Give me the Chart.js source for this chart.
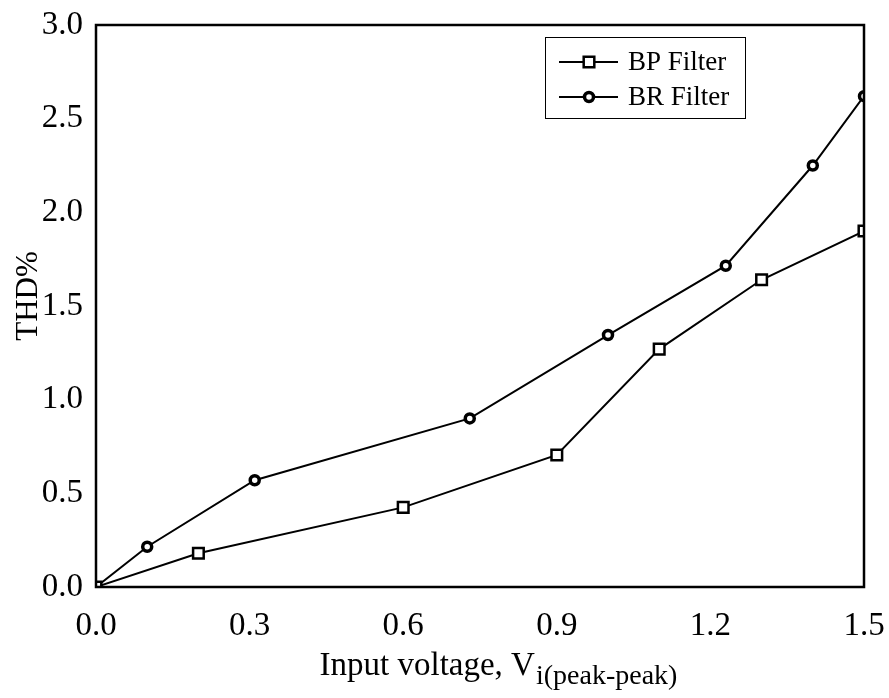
<!DOCTYPE html>
<html>
<head>
<meta charset="utf-8">
<script src="https://cdn.jsdelivr.net/npm/chart.js@4/dist/chart.umd.min.js"></script>
<style>
  html, body { margin: 0; padding: 0; background: #fff; }
  #wrap { width: 889px; height: 698px; }
</style>
</head>
<body>
<div id="wrap"><canvas id="myChart" width="889" height="698"></canvas></div>
<script>
// data
const bpVoltage = [0, 0.2, 0.6, 0.9, 1.1, 1.3, 1.5];
const bpThd = [0, 0.18, 0.425, 0.705, 1.27, 1.64, 1.90];
const brVoltage = [0, 0.1, 0.31, 0.73, 1.0, 1.23, 1.4, 1.5];
const brThd = [0, 0.215, 0.57, 0.90, 1.345, 1.715, 2.25, 2.62];
const xTicks = [0, 0.3, 0.6, 0.9, 1.2, 1.5];
const yTicks = [0, 0.5, 1.0, 1.5, 2.0, 2.5, 3.0];
const seriesLabels = ["BP Filter", "BR Filter"];

const serif = "'Liberation Serif', 'Times New Roman', serif";

function toPoints(xs, ys){
    return xs.map((x, i) => ({x: x, y: ys[i]}));
}

// frame, axis titles and boxed legend
const extras = {
    id: 'extras',
    afterDatasetsDraw(chart){
        const c = chart.ctx;
        const a = chart.chartArea;
        c.save();
        c.strokeStyle = '#000';
        c.lineWidth = 2.5;
        c.strokeRect(a.left, a.top, a.right - a.left, a.bottom - a.top);

        // y title
        c.fillStyle = '#000';
        c.font = '31px ' + serif;
        c.translate(37, (a.top + a.bottom) / 2 - 10);
        c.rotate(-Math.PI / 2);
        c.textAlign = 'center';
        c.textBaseline = 'alphabetic';
        c.fillText('THD%', 0, 0);
        c.restore();

        // x title with subscript
        c.save();
        c.fillStyle = '#000';
        c.textBaseline = 'alphabetic';
        const main = 'Input voltage, V';
        const sub = 'i(peak-peak)';
        c.font = '33px ' + serif;
        const w1 = c.measureText(main).width;
        c.font = '28px ' + serif;
        const w2 = c.measureText(sub).width;
        const x0 = (a.left + a.right) / 2 + 18 - (w1 + w2) / 2;
        c.font = '33px ' + serif;
        c.fillText(main, x0, 675);
        c.font = '28px ' + serif;
        c.fillText(sub, x0 + w1 + 1, 684);

        // legend
        const lx = 545, ly = 37, lw = 200, lh = 81;
        c.fillStyle = '#fff';
        c.fillRect(lx, ly, lw, lh);
        c.strokeStyle = '#000';
        c.lineWidth = 1;
        c.strokeRect(lx + 0.5, ly + 0.5, lw, lh);
        chart.data.datasets.forEach((ds, i) => {
            const yy = 62 + i * 35;
            c.strokeStyle = '#000';
            c.lineWidth = 2;
            c.beginPath();
            c.moveTo(559, yy);
            c.lineTo(618, yy);
            c.stroke();
            c.fillStyle = '#fff';
            c.lineWidth = ds.pointBorderWidth;
            Chart.helpers.drawPoint(c, {
                pointStyle: ds.pointStyle,
                radius: ds.pointRadius,
                borderWidth: ds.pointBorderWidth,
                rotation: 0
            }, 589, yy);
            c.fillStyle = '#000';
            c.font = '27px ' + serif;
            c.textBaseline = 'middle';
            c.textAlign = 'left';
            c.fillText(ds.label, 628, yy + 1);
        });
        c.restore();
    }
};

function InitChart(){
    const ctx = document.getElementById('myChart').getContext('2d');
    return new Chart(ctx, {
        type: 'scatter',
        data: {
            datasets: [{
                label: seriesLabels[0],
                data: toPoints(bpVoltage, bpThd),
                showLine: true,
                borderColor: '#000',
                borderWidth: 2,
                pointStyle: 'rect',
                pointRadius: 7.5,
                pointBorderWidth: 2.5,
                pointBackgroundColor: '#fff',
                pointBorderColor: '#000',
                clip: 0
            }, {
                label: seriesLabels[1],
                data: toPoints(brVoltage, brThd),
                showLine: true,
                borderColor: '#000',
                borderWidth: 2,
                pointStyle: 'circle',
                pointRadius: 4.5,
                pointBorderWidth: 3.5,
                pointBackgroundColor: '#fff',
                pointBorderColor: '#000',
                clip: 0
            }]
        },
        options: {
            responsive: false,
            animation: false,
            layout: { padding: { top: 25, right: 25, left: 0, bottom: 0 } },
            plugins: {
                legend: { display: false },
                tooltip: { enabled: false }
            },
            scales: {
                x: {
                    type: 'linear',
                    min: 0,
                    max: 1.5,
                    grid: { display: false, drawTicks: false },
                    border: { display: false },
                    afterBuildTicks: axis => { axis.ticks = xTicks.map(v => ({value: v})); },
                    afterFit: axis => {
                        axis.height = 111;
                        axis.paddingLeft = 0;
                        axis.paddingRight = 0;
                    },
                    ticks: {
                        padding: 20,
                        color: '#000',
                        font: { family: serif, size: 33 },
                        maxRotation: 0,
                        callback: v => Number(v).toFixed(1)
                    }
                },
                y: {
                    type: 'linear',
                    min: 0,
                    max: 3,
                    grid: { display: false, drawTicks: false },
                    border: { display: false },
                    afterBuildTicks: axis => { axis.ticks = yTicks.map(v => ({value: v})); },
                    afterFit: axis => {
                        axis.width = 96;
                        axis.paddingTop = 0;
                        axis.paddingBottom = 0;
                    },
                    ticks: {
                        padding: 13,
                        color: '#000',
                        font: { family: serif, size: 33 },
                        callback: v => Number(v).toFixed(1)
                    }
                }
            }
        },
        plugins: [extras]
    });
}

const myChart = InitChart();
</script>
</body>
</html>
